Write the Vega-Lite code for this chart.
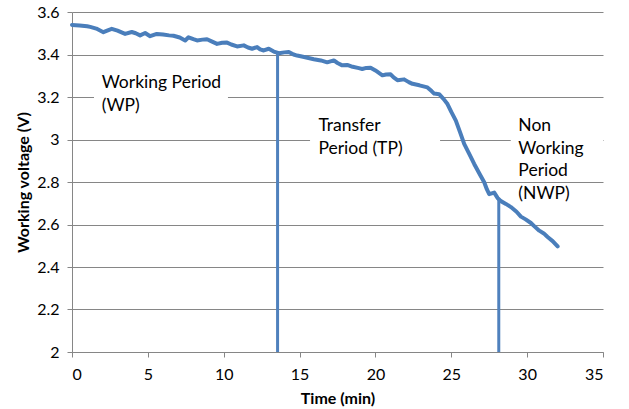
{
  "$schema": "https://vega.github.io/schema/vega-lite/v6.json",
  "width": 531,
  "height": 340,
  "autosize": {"type": "none"},
  "padding": {"left": 72, "top": 12, "right": 26, "bottom": 57},
  "background": "white",
  "config": {
    "view": {"stroke": null},
    "font": "Lato",
    "axis": {
      "labelFont": "Lato", "labelFontSize": 16, "labelColor": "#000000",
      "titleFont": "Lato", "titleFontSize": 16, "titleFontWeight": "bold", "titleColor": "#000000",
      "domainColor": "#868686", "tickColor": "#868686", "gridColor": "#868686",
      "tickSize": 5, "domainWidth": 1, "tickWidth": 1, "gridWidth": 1
    }
  },
  "datasets": {
    "curve": [
      {"t": 0, "v": 3.539}, {"t": 0.5, "v": 3.537}, {"t": 1.0, "v": 3.533}, {"t": 1.2, "v": 3.530},
      {"t": 1.6, "v": 3.522}, {"t": 2.07, "v": 3.505}, {"t": 2.4, "v": 3.515}, {"t": 2.62, "v": 3.521},
      {"t": 3.0, "v": 3.512}, {"t": 3.5, "v": 3.497}, {"t": 3.94, "v": 3.506}, {"t": 4.2, "v": 3.500},
      {"t": 4.49, "v": 3.490}, {"t": 4.82, "v": 3.501}, {"t": 5.15, "v": 3.486}, {"t": 5.59, "v": 3.497},
      {"t": 6.0, "v": 3.494}, {"t": 6.4, "v": 3.490}, {"t": 6.69, "v": 3.488}, {"t": 7.1, "v": 3.480},
      {"t": 7.46, "v": 3.466}, {"t": 7.68, "v": 3.481}, {"t": 8.0, "v": 3.472}, {"t": 8.24, "v": 3.466},
      {"t": 8.6, "v": 3.470}, {"t": 8.9, "v": 3.472}, {"t": 9.2, "v": 3.462}, {"t": 9.56, "v": 3.450},
      {"t": 9.9, "v": 3.455}, {"t": 10.22, "v": 3.456}, {"t": 10.5, "v": 3.447}, {"t": 10.88, "v": 3.438},
      {"t": 11.32, "v": 3.443}, {"t": 11.6, "v": 3.433}, {"t": 11.87, "v": 3.427}, {"t": 12.2, "v": 3.435},
      {"t": 12.4, "v": 3.424}, {"t": 12.64, "v": 3.419}, {"t": 12.97, "v": 3.427}, {"t": 13.3, "v": 3.414},
      {"t": 13.63, "v": 3.406}, {"t": 14.0, "v": 3.410}, {"t": 14.29, "v": 3.412}, {"t": 14.6, "v": 3.400},
      {"t": 14.84, "v": 3.395}, {"t": 15.3, "v": 3.388}, {"t": 15.94, "v": 3.378}, {"t": 16.4, "v": 3.372},
      {"t": 16.82, "v": 3.363}, {"t": 17.26, "v": 3.372}, {"t": 17.5, "v": 3.360}, {"t": 17.81, "v": 3.349},
      {"t": 18.14, "v": 3.351}, {"t": 18.5, "v": 3.342}, {"t": 18.91, "v": 3.336}, {"t": 19.13, "v": 3.332},
      {"t": 19.4, "v": 3.337}, {"t": 19.68, "v": 3.338}, {"t": 20.0, "v": 3.325}, {"t": 20.46, "v": 3.302},
      {"t": 20.7, "v": 3.306}, {"t": 21.0, "v": 3.307}, {"t": 21.2, "v": 3.292}, {"t": 21.45, "v": 3.279},
      {"t": 21.89, "v": 3.283}, {"t": 22.2, "v": 3.270}, {"t": 22.44, "v": 3.262}, {"t": 22.9, "v": 3.255},
      {"t": 23.43, "v": 3.245}, {"t": 23.7, "v": 3.228}, {"t": 23.87, "v": 3.216}, {"t": 24.2, "v": 3.213},
      {"t": 24.5, "v": 3.190}, {"t": 24.75, "v": 3.167}, {"t": 25.0, "v": 3.130}, {"t": 25.3, "v": 3.089},
      {"t": 25.6, "v": 3.030}, {"t": 25.85, "v": 2.979}, {"t": 26.2, "v": 2.930}, {"t": 26.51, "v": 2.885},
      {"t": 26.85, "v": 2.840}, {"t": 27.17, "v": 2.799}, {"t": 27.35, "v": 2.765}, {"t": 27.5, "v": 2.743},
      {"t": 27.83, "v": 2.750}, {"t": 28.05, "v": 2.725}, {"t": 28.27, "v": 2.710}, {"t": 28.6, "v": 2.697},
      {"t": 28.93, "v": 2.682}, {"t": 29.3, "v": 2.660}, {"t": 29.59, "v": 2.637}, {"t": 29.9, "v": 2.624},
      {"t": 30.25, "v": 2.607}, {"t": 30.5, "v": 2.590}, {"t": 30.8, "v": 2.571}, {"t": 31.1, "v": 2.558},
      {"t": 31.35, "v": 2.541}, {"t": 31.68, "v": 2.522}, {"t": 32.01, "v": 2.497}
    ],
    "markers": [
      {"t": 13.55, "v0": 2, "v": 3.408},
      {"t": 28.13, "v0": 2, "v": 2.717}
    ],
    "boxes": [
      {"t": 1.45, "t2": 10.28, "v": 3.36, "v2": 3.06},
      {"t": 15.69, "t2": 24.26, "v": 3.17, "v2": 2.83},
      {"t": 28.92, "t2": 35, "v": 3.17, "v2": 2.83}
    ],
    "labels": [
      {"t": 1.96, "v": 3.241, "text": "Working Period\n(WP)"},
      {"t": 16.24, "v": 3.04, "text": "Transfer\nPeriod (TP)"},
      {"t": 29.42, "v": 3.04, "text": "Non\nWorking\nPeriod\n(NWP)"}
    ]
  },
  "layer": [
    {
      "data": {"name": "boxes"},
      "mark": {"type": "rect", "fill": "white", "stroke": null},
      "encoding": {
        "x": {"field": "t", "type": "quantitative",
          "scale": {"domain": [0, 35], "nice": false, "zero": false},
          "axis": {"values": [0, 5, 10, 15, 20, 25, 30, 35], "grid": false, "title": "Time (min)", "labelPadding": 9, "titlePadding": 8}},
        "x2": {"field": "t2"},
        "y": {"field": "v", "type": "quantitative",
          "scale": {"domain": [2, 3.6], "nice": false, "zero": false},
          "axis": {"values": [2, 2.2, 2.4, 2.6, 2.8, 3, 3.2, 3.4, 3.6], "format": ".1~f", "grid": true, "title": "Working voltage (V)", "labelPadding": 8, "titlePadding": 5}},
        "y2": {"field": "v2"}
      }
    },
    {
      "data": {"name": "curve"},
      "mark": {"type": "line", "color": "#4a7ebb", "strokeWidth": 4, "strokeCap": "round", "strokeJoin": "round"},
      "encoding": {
        "x": {"field": "t", "type": "quantitative"},
        "y": {"field": "v", "type": "quantitative"}
      }
    },
    {
      "data": {"name": "markers"},
      "mark": {"type": "rule", "color": "#4f81bd", "strokeWidth": 3},
      "encoding": {
        "x": {"field": "t", "type": "quantitative"},
        "y": {"field": "v0", "type": "quantitative"},
        "y2": {"field": "v"}
      }
    },
    {
      "data": {"name": "labels"},
      "mark": {"type": "text", "align": "left", "baseline": "alphabetic", "font": "Lato", "fontSize": 17.5, "lineBreak": "\n", "lineHeight": 22.5, "color": "#000000"},
      "encoding": {
        "x": {"field": "t", "type": "quantitative"},
        "y": {"field": "v", "type": "quantitative"},
        "text": {"field": "text", "type": "nominal"}
      }
    }
  ]
}
